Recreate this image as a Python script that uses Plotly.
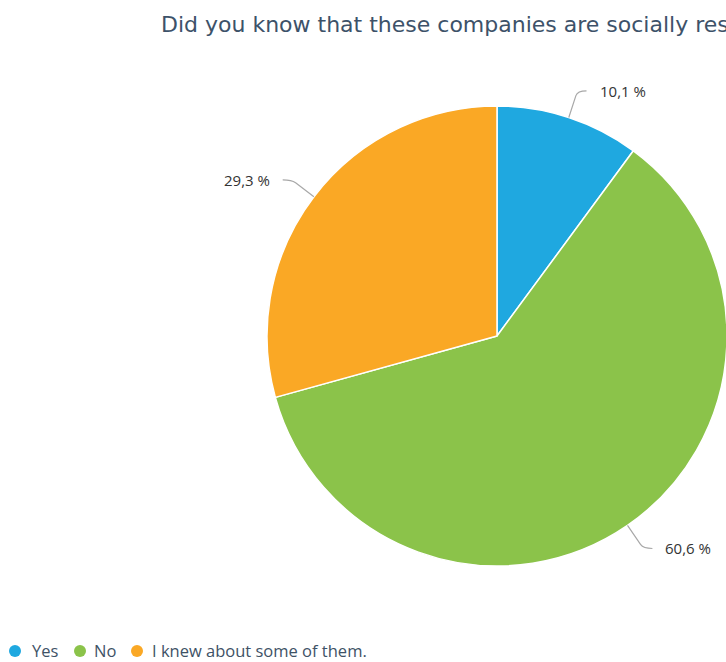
import math
import plotly.graph_objects as go

# Survey answers
labels = ["Yes", "No", "I knew about some of them."]
values = [10.1, 60.6, 29.3]
value_text = ["10,1 %", "60,6 %", "29,3 %"]
colors = ["#1fa8e0", "#8bc34a", "#faa825"]
title_text = "Did you know that these companies are socially responsible?"

# Canvas (wider than the viewport, so the right side is clipped)
W, H = 994, 662
CX, CY, R = 497, 336, 230

fig = go.Figure()

fig.add_trace(go.Pie(
    labels=labels,
    values=values,
    marker=dict(colors=colors, line=dict(color="#ffffff", width=1.5)),
    sort=False,
    direction="clockwise",
    rotation=0,
    textinfo="none",
    hoverinfo="label+percent",
    showlegend=False,
    domain=dict(x=[(CX - R) / W, (CX + R) / W],
                y=[(H - CY - R) / H, (H - CY + R) / H]),
))

# Outside labels with leader lines, placed at each slice's mid-angle
total = sum(values)
cum = 0.0
shapes = []
annotations = []
for v, txt in zip(values, value_text):
    mid = (cum + v / 2) / total * 2 * math.pi
    cum += v
    sx, sy = math.sin(mid), -math.cos(mid)
    x0, y0 = CX + R * sx, CY + R * sy
    x1, y1 = CX + (R + 28) * sx, CY + (R + 28) * sy
    side = 1 if sx >= 0 else -1
    x2 = x1 + 9 * side
    xc, yc = CX + (R + 23) * sx, CY + (R + 23) * sy
    shapes.append(dict(
        type="path", xref="x", yref="y",
        path=f"M {x0:.1f},{y0:.1f} L {xc:.1f},{yc:.1f} Q {x1:.1f},{y1:.1f} {x2:.1f},{y1:.1f}",
        line=dict(color="#a8a8a8", width=1.2),
    ))
    annotations.append(dict(
        x=x2 + 11 * side, y=y1, xref="x", yref="y",
        text=txt, showarrow=False,
        xanchor="left" if side > 0 else "right", yanchor="middle",
        font=dict(family="Open Sans", size=15, color="#333333"),
    ))

# Legend row: coloured dots followed by the answer text
legend_dot_x = [15, 80, 137]
legend_text_x = [30, 92, 150]
LEG_Y = 650
fig.add_trace(go.Scatter(
    x=legend_dot_x, y=[LEG_Y + 1] * len(labels), mode="markers",
    marker=dict(color=colors, size=12, symbol="circle"),
    hoverinfo="skip", showlegend=False,
))
for tx, lab in zip(legend_text_x, labels):
    annotations.append(dict(
        x=tx, y=LEG_Y, xref="x", yref="y", text=lab, showarrow=False,
        xanchor="left", yanchor="middle",
        font=dict(family="Open Sans", size=16.5, color="#3e5266"),
    ))

fig.update_layout(
    width=W, height=H,
    margin=dict(l=0, r=0, t=0, b=0),
    paper_bgcolor="#ffffff",
    plot_bgcolor="rgba(0,0,0,0)",
    title=dict(text=title_text, x=0.5, xanchor="center", y=1 - 24 / H, yanchor="middle",
               font=dict(family="DejaVu Sans", size=22, color="#3d5269")),
    xaxis=dict(range=[0, W], visible=False, fixedrange=True),
    yaxis=dict(range=[H, 0], visible=False, fixedrange=True),
    shapes=shapes,
    annotations=annotations,
    showlegend=False,
)

fig.write_html("out.html")
